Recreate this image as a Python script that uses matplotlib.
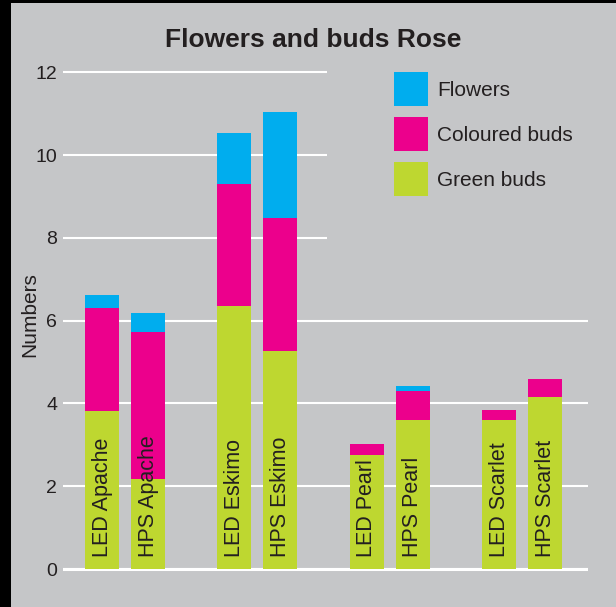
import matplotlib
matplotlib.use('Agg')
import matplotlib.pyplot as plt
from matplotlib.patches import Rectangle

plt.rcParams['font.family'] = ['Liberation Sans', 'DejaVu Sans']

# data
cultivars = ['Apache', 'Eskimo', 'Pearl', 'Scarlet']
bar_labels = ['LED Apache', 'HPS Apache', 'LED Eskimo', 'HPS Eskimo',
              'LED Pearl', 'HPS Pearl', 'LED Scarlet', 'HPS Scarlet']
green_buds = [3.81, 2.17, 6.36, 5.27, 2.75, 3.60, 3.60, 4.15]
coloured_buds = [2.50, 3.56, 2.94, 3.21, 0.26, 0.70, 0.24, 0.44]
flowers = [0.31, 0.46, 1.23, 2.56, 0.00, 0.12, 0.00, 0.00]

BG = '#c5c6c8'
TXT = '#231f20'
GREEN = '#bed730'
PINK = '#ec008c'
BLUE = '#00adee'

W, H = 616, 607
fig = plt.figure(figsize=(W / 100, H / 100), dpi=100, facecolor=BG)

ymin, ymax = -0.1, 12.2
px_per_unit = 41.4
ax_bottom = 569 + (0 - ymin) * px_per_unit
ax_height = (ymax - ymin) * px_per_unit
ax = fig.add_axes([63 / W, (H - ax_bottom) / H, 525 / W, ax_height / H])
ax.set_facecolor(BG)

# bar positions: two bars per cultivar
xpos = []
for g in range(len(cultivars)):
    xpos.append(g * 3.88)
    xpos.append(g * 3.88 + 1.35)

bottom2 = [a + b for a, b in zip(green_buds, coloured_buds)]
b1 = ax.bar(xpos, green_buds, width=1.0, color=GREEN, zorder=2)
b2 = ax.bar(xpos, coloured_buds, width=1.0, bottom=green_buds, color=PINK, zorder=2)
b3 = ax.bar(xpos, flowers, width=1.0, bottom=bottom2, color=BLUE, zorder=2)

for x, lab in zip(xpos, bar_labels):
    ax.text(x, 0.3, lab, rotation=90, ha='center', va='bottom',
            fontsize=15.5, color=TXT, zorder=3)

ax.set_xlim(-1.147, 14.25)
ax.set_ylim(ymin, ymax)
ax.set_yticks(range(0, 13, 2))
ax.set_xticks([])
ax.tick_params(axis='y', length=0, pad=4.3, labelsize=14, labelcolor=TXT)
for s in ax.spines.values():
    s.set_visible(False)

ax.set_axisbelow(True)
ax.grid(axis='y', color='white', linewidth=1.5)
ax.axhline(0, color='white', linewidth=2.2, zorder=1)

# legend area hides the grid lines behind it
cover_x0 = (327 - 63) / 525
cover_y0 = (ax_bottom - 280) / ax_height
ax.add_patch(Rectangle((cover_x0, cover_y0), 1 - cover_x0, 1 - cover_y0,
                       transform=ax.transAxes, facecolor=BG, edgecolor='none',
                       zorder=1.5))

leg = fig.legend([b3, b2, b1], ['Flowers', 'Coloured buds', 'Green buds'],
                 loc='upper left', bbox_to_anchor=(394 / W, 1 - 72 / H),
                 frameon=False, fontsize=15, borderpad=0, borderaxespad=0,
                 handlelength=1.63, handleheight=2.13, labelspacing=0.53,
                 handletextpad=0.43)
for t in leg.get_texts():
    t.set_color(TXT)

fig.text(313 / W, 1 - 40 / H, 'Flowers and buds Rose', ha='center', va='center',
         fontsize=19, fontweight='bold', color=TXT)
fig.text(30 / W, 1 - 315 / H, 'Numbers', rotation=90, ha='center', va='center',
         fontsize=15, color=TXT)

# black strips at the left and top edges
fig.patches.append(Rectangle((0, 0), 11 / W, 1, transform=fig.transFigure,
                             facecolor='black', edgecolor='none'))
fig.patches.append(Rectangle((0, 1 - 3 / H), 1, 3 / H, transform=fig.transFigure,
                             facecolor='black', edgecolor='none'))

fig.savefig('out.png', dpi=100, facecolor=BG)
